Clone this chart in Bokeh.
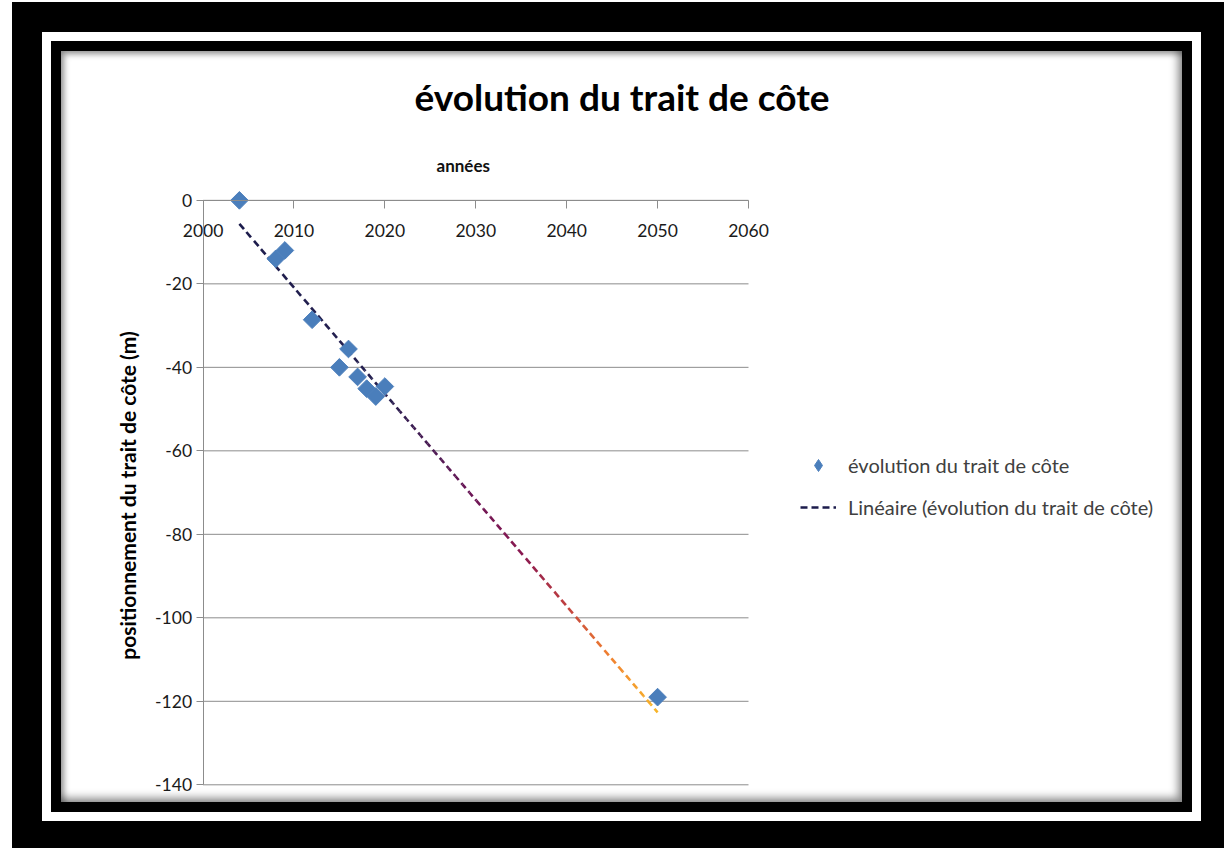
import numpy as np
from bokeh.plotting import figure
from bokeh.models import (Range1d, LinearAxis, FixedTicker, Legend, LegendItem,
                          Title, ColumnDataSource)
from bokeh.embed import file_html
from bokeh.resources import INLINE

# ---- data ----
years = [2004, 2008, 2009, 2012, 2015, 2016, 2017, 2018, 2019, 2020, 2050]
positions = [0, -14, -12, -28.6, -40, -35.6, -42.3, -45.1, -47, -44.6, -119]
x_ticks = [2000, 2010, 2020, 2030, 2040, 2050, 2060]
y_ticks = [0, -20, -40, -60, -80, -100, -120, -140]
chart_title = "évolution du trait de côte"
x_title = "années"
y_title = "positionnement du trait de côte (m)"
series_name = "évolution du trait de côte"
trend_name = "Linéaire (évolution du trait de côte)"

FONT = "Lato"
GRID = "#8c8c8c"
W, H = 1121, 751
BL, BR, BT, BB = 87, 0, 138, 1
XR = (1994, 2107.74)   # frame also hosts the legend on the right
YR = (-144, 2.6)

p = figure(width=W, height=H, output_backend="svg", toolbar_location=None,
           x_range=Range1d(*XR), y_range=Range1d(*YR),
           x_axis_location=None, y_axis_location=None,
           min_border_left=BL, min_border_right=BR, min_border_top=BT,
           min_border_bottom=BB, outline_line_color=None,
           background_fill_color=None, border_fill_color=None)

p.styles = {"margin-left": "61px", "margin-top": "51px",
            "background-color": "#ffffff",
            "box-shadow": ("inset -4px -4px 8px rgba(0,0,0,0.45), "
                           "inset 3px 3px 6px rgba(0,0,0,0.4), "
                           "0 0 0 10px #000, 0 0 0 19px #fff, 0 0 0 49px #000")}

# titles (p.title is the outermost one)
p.title.text = chart_title
p.title.text_font = FONT
p.title.text_font_size = "37px"
p.title.text_font_style = "bold"
p.title.text_color = "#000000"
p.title.align = "left"
p.title.offset = 266
p.title.standoff = 40
sub = Title(text=x_title, text_font=FONT, text_font_size="17px",
            text_font_style="bold", text_color="#111111", align="left",
            offset=288, standoff=28)
p.add_layout(sub, "above")

# y axis crossing at x = 2000 (ticks and labels)
ya = LinearAxis(fixed_location=x_ticks[0], ticker=FixedTicker(ticks=y_ticks),
                bounds=(y_ticks[-1], y_ticks[0]))
ya.major_label_overrides = {v: str(v) for v in y_ticks}
ya.axis_line_color = GRID
ya.major_tick_line_color = GRID
ya.major_tick_out = 7
ya.major_tick_in = 0
ya.minor_tick_line_color = None
ya.major_label_standoff = 4
ya.major_label_text_font = FONT
ya.major_label_text_font_size = "17.5px"
ya.major_label_text_color = "#1a1a1a"
p.add_layout(ya, "left")

# y axis title in the left border
yl = LinearAxis(ticker=FixedTicker(ticks=[]), axis_line_color=None,
                major_tick_line_color=None, minor_tick_line_color=None,
                major_tick_out=0, major_tick_in=0, major_label_standoff=0)
yl.axis_label = y_title
yl.axis_label_text_font = FONT
yl.axis_label_text_font_size = "21px"
yl.axis_label_text_font_style = "bold"
yl.axis_label_text_color = "#000000"
yl.axis_label_standoff = 9
p.add_layout(yl, "left")

# x axis crossing at y = 0
xa = LinearAxis(fixed_location=y_ticks[0], ticker=FixedTicker(ticks=x_ticks),
                bounds=(x_ticks[0], x_ticks[-1]))
xa.axis_line_color = GRID
xa.major_tick_line_color = GRID
xa.major_tick_out = 8
xa.major_tick_in = 0
xa.minor_tick_line_color = None
xa.major_label_standoff = 16
xa.major_label_text_font = FONT
xa.major_label_text_font_size = "17.5px"
xa.major_label_text_color = "#1a1a1a"
p.add_layout(xa, "below")

p.xgrid.visible = False
p.ygrid.visible = False
# horizontal gridlines limited to the axis extent 2000..2060
p.segment(x0=x_ticks[0], x1=x_ticks[-1], y0=y_ticks, y1=y_ticks,
          line_color=GRID, line_width=1)

# linear trend (least squares), drawn with a colour gradient
slope, intercept = np.polyfit(years, positions, 1)
x0, x1 = min(years), max(years)
N = 60
t = np.linspace(0, 1, N + 1)
xs_b = x0 + (x1 - x0) * t
ys_b = intercept + slope * xs_b
stops_t = [0.0, 0.35, 0.55, 0.68, 0.78, 0.88, 1.0]
stops_c = [(0x1c, 0x1c, 0x4c), (0x26, 0x20, 0x50), (0x6a, 0x16, 0x56),
           (0x8a, 0x18, 0x50), (0xc0, 0x40, 0x40), (0xf0, 0x80, 0x30),
           (0xf8, 0xb8, 0x28)]
colors, xs_l, ys_l, offs = [], [], [], []
sx = (W - BL - BR) / (XR[1] - XR[0])
sy = (H - BT - BB) / (YR[1] - YR[0])
seg_len = np.hypot((x1 - x0) / N * sx, slope * (x1 - x0) / N * sy)
period = 11
for i in range(N):
    tm = (t[i] + t[i + 1]) / 2
    rgb = [int(round(np.interp(tm, stops_t, [c[k] for c in stops_c]))) for k in range(3)]
    colors.append("#%02x%02x%02x" % tuple(rgb))
    xs_l.append([xs_b[i], xs_b[i + 1]])
    ys_l.append([ys_b[i], ys_b[i + 1]])
    offs.append(int(round(i * seg_len)) % period)
src = ColumnDataSource(dict(xs=xs_l, ys=ys_l, color=colors, off=offs))
p.multi_line(xs="xs", ys="ys", source=src, line_color="color", line_width=2.6,
             line_dash="7 4", line_dash_offset="off")

sc = p.scatter(x=years, y=positions, marker="square", angle=np.pi / 4, size=12.5,
               fill_color="#4a7ebb", line_color="#4f81bd")

# legend-only proxies (no visible data)
proxy_pt = p.scatter(x=[x0], y=[np.nan], marker="diamond", size=12.5,
                     fill_color="#4a7ebb", line_color="#4f81bd")
proxy_ln = p.line(x=[x0, x1], y=[np.nan, np.nan], line_color="#1c1c4c",
                  line_width=2.6, line_dash="7 4")

legend = Legend(items=[LegendItem(label=series_name, renderers=[proxy_pt]),
                       LegendItem(label=trend_name, renderers=[proxy_ln])],
                location=(652, 279), margin=0, padding=10,
                glyph_width=36, glyph_height=30, label_standoff=12, spacing=12,
                label_text_font=FONT, label_text_font_size="20px",
                label_text_color="#404040", border_line_color=None,
                background_fill_alpha=0)
p.add_layout(legend, "center")

open("out.html", "w").write(file_html(p, INLINE))
